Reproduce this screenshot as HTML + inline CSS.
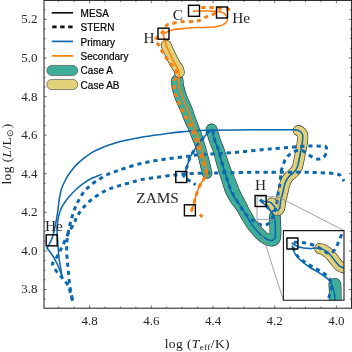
<!DOCTYPE html>
<html><head><meta charset="utf-8">
<style>
html,body{margin:0;padding:0;background:#fff;}
body{width:352px;height:352px;overflow:hidden;font-family:"Liberation Serif",serif;}
svg{display:block;}
.tk{font-family:"Liberation Serif",serif;font-size:13px;fill:#262626;}
.ax{font-family:"Liberation Serif",serif;font-size:13.5px;fill:#1a1a1a;letter-spacing:0.4px;}
.lg{font-family:"Liberation Sans",sans-serif;font-size:10px;fill:#000;stroke:#000;stroke-width:0.2px;}
.an{font-family:"Liberation Serif",serif;font-size:15.3px;fill:#262626;}
</style></head><body>
<svg style="will-change:transform" width="352" height="352" viewBox="0 0 352 352">
<rect width="352" height="352" fill="#fff"/>
<g id="curves" fill="none" stroke-linecap="round" stroke-linejoin="round">
<path d="M207.2,173.5 C206.9,172.1 205.9,168.1 205.2,165.0 C204.4,161.9 203.8,159.2 202.7,155.0 C201.6,150.8 199.8,144.5 198.4,140.0 C197.0,135.5 195.3,131.3 194.1,128.0 C192.9,124.7 192.3,123.5 191.1,120.2 C189.9,116.9 188.5,112.3 186.9,108.3 C185.3,104.3 183.1,100.1 181.8,96.4 C180.4,92.7 179.4,88.9 178.8,86.2 C178.2,83.5 178.3,81.0 178.2,80.0" stroke="#303030" stroke-width="10.5"/>
<path d="M211.6,129.5 C212.1,131.2 213.5,136.6 214.7,140.0 C215.8,143.4 217.4,146.5 218.5,150.0 C219.6,153.5 220.4,157.2 221.5,161.0 C222.6,164.8 223.7,169.0 224.8,172.5 C225.9,176.0 227.0,178.9 228.0,182.0 C229.0,185.1 229.7,188.2 231.0,191.2 C232.3,194.2 234.2,197.3 236.0,200.0 C237.8,202.7 239.8,204.5 241.7,207.4 C243.6,210.3 245.5,214.3 247.4,217.4 C249.3,220.5 250.8,223.4 253.0,226.2 C255.2,229.0 258.1,232.2 260.4,234.4 C262.7,236.6 265.1,238.3 267.0,239.3 C268.9,240.3 270.7,240.8 272.0,240.6 C273.3,240.4 274.4,239.5 275.0,238.0 C275.6,236.5 275.4,233.8 275.4,231.6 C275.4,229.3 275.3,227.0 275.2,224.5 C275.1,222.0 274.9,217.8 274.9,216.5" stroke="#303030" stroke-width="11.799999999999999"/>
<path d="M218.7,150.0 C219.3,151.8 221.2,157.2 222.5,161.0 C223.8,164.8 225.2,169.0 226.6,172.5 C227.9,176.0 229.3,178.9 230.6,182.0 C231.9,185.1 232.9,188.3 234.2,191.2 C235.5,194.1 236.8,196.7 238.2,199.3 C239.5,201.9 241.6,205.6 242.3,206.8" stroke="#303030" stroke-width="11.2"/>
<path d="M198.0,140.0 C197.2,138.0 194.6,131.3 193.2,128.0 C191.8,124.7 191.0,123.5 189.6,120.2 C188.2,116.9 186.5,112.3 184.8,108.3 C183.1,104.3 180.9,100.1 179.6,96.4 C178.2,92.7 177.2,88.9 176.7,86.2 C176.2,83.5 176.5,81.0 176.5,80.0" stroke="#303030" stroke-width="10.5"/>
<path d="M207.2,173.5 C206.9,172.1 205.9,168.1 205.2,165.0 C204.4,161.9 203.8,159.2 202.7,155.0 C201.6,150.8 199.8,144.5 198.4,140.0 C197.0,135.5 195.3,131.3 194.1,128.0 C192.9,124.7 192.3,123.5 191.1,120.2 C189.9,116.9 188.5,112.3 186.9,108.3 C185.3,104.3 183.1,100.1 181.8,96.4 C180.4,92.7 179.4,88.9 178.8,86.2 C178.2,83.5 178.3,81.0 178.2,80.0" stroke="#3fae99" stroke-width="9.3"/>
<path d="M211.6,129.5 C212.1,131.2 213.5,136.6 214.7,140.0 C215.8,143.4 217.4,146.5 218.5,150.0 C219.6,153.5 220.4,157.2 221.5,161.0 C222.6,164.8 223.7,169.0 224.8,172.5 C225.9,176.0 227.0,178.9 228.0,182.0 C229.0,185.1 229.7,188.2 231.0,191.2 C232.3,194.2 234.2,197.3 236.0,200.0 C237.8,202.7 239.8,204.5 241.7,207.4 C243.6,210.3 245.5,214.3 247.4,217.4 C249.3,220.5 250.8,223.4 253.0,226.2 C255.2,229.0 258.1,232.2 260.4,234.4 C262.7,236.6 265.1,238.3 267.0,239.3 C268.9,240.3 270.7,240.8 272.0,240.6 C273.3,240.4 274.4,239.5 275.0,238.0 C275.6,236.5 275.4,233.8 275.4,231.6 C275.4,229.3 275.3,227.0 275.2,224.5 C275.1,222.0 274.9,217.8 274.9,216.5" stroke="#3fae99" stroke-width="10.6"/>
<path d="M218.7,150.0 C219.3,151.8 221.2,157.2 222.5,161.0 C223.8,164.8 225.2,169.0 226.6,172.5 C227.9,176.0 229.3,178.9 230.6,182.0 C231.9,185.1 232.9,188.3 234.2,191.2 C235.5,194.1 236.8,196.7 238.2,199.3 C239.5,201.9 241.6,205.6 242.3,206.8" stroke="#3fae99" stroke-width="10.0"/>
<path d="M198.0,140.0 C197.2,138.0 194.6,131.3 193.2,128.0 C191.8,124.7 191.0,123.5 189.6,120.2 C188.2,116.9 186.5,112.3 184.8,108.3 C183.1,104.3 180.9,100.1 179.6,96.4 C178.2,92.7 177.2,88.9 176.7,86.2 C176.2,83.5 176.5,81.0 176.5,80.0" stroke="#3fae99" stroke-width="9.3"/>
<path d="M179.4,72.5 C179.2,71.8 179.0,69.8 178.2,68.3 C177.4,66.8 176.1,65.8 174.7,63.2 C173.3,60.7 171.0,56.0 169.6,53.0 C168.2,50.0 166.8,46.5 166.2,45.2" stroke="#303030" stroke-width="10.799999999999999"/>
<path d="M179.4,72.5 C179.2,71.8 179.0,69.8 178.2,68.3 C177.4,66.8 176.1,65.8 174.7,63.2 C173.3,60.7 171.0,56.0 169.6,53.0 C168.2,50.0 166.8,46.5 166.2,45.2" stroke="#e0d078" stroke-width="9.6"/>
<path d="M271.8,203.0 C272.2,203.6 273.6,205.3 274.4,206.5 C275.2,207.7 275.9,210.0 276.8,210.3 C277.7,210.6 279.1,209.7 279.7,208.2 C280.3,206.7 280.2,203.4 280.6,201.2 C281.0,199.0 281.6,197.3 282.2,195.0 C282.8,192.7 283.3,189.8 283.9,187.5 C284.5,185.2 285.0,183.1 285.9,181.2 C286.8,179.3 287.9,177.7 289.3,176.2 C290.7,174.7 292.7,173.8 294.0,172.3 C295.3,170.9 296.3,169.2 297.1,167.5 C297.9,165.8 298.1,164.1 298.6,162.0 C299.1,159.9 299.4,157.8 300.0,155.0 C300.6,152.2 301.4,147.9 301.9,145.0 C302.4,142.1 302.7,139.4 302.8,137.5 C302.8,135.6 302.8,134.8 302.3,133.8 C301.8,132.7 300.7,131.8 300.0,131.3 C299.3,130.8 298.6,130.6 298.3,130.5" stroke="#303030" stroke-width="10.899999999999999"/>
<path d="M271.8,203.0 C272.2,203.6 273.6,205.3 274.4,206.5 C275.2,207.7 275.9,210.0 276.8,210.3 C277.7,210.6 279.1,209.7 279.7,208.2 C280.3,206.7 280.2,203.4 280.6,201.2 C281.0,199.0 281.6,197.3 282.2,195.0 C282.8,192.7 283.3,189.8 283.9,187.5 C284.5,185.2 285.0,183.1 285.9,181.2 C286.8,179.3 287.9,177.7 289.3,176.2 C290.7,174.7 292.7,173.8 294.0,172.3 C295.3,170.9 296.3,169.2 297.1,167.5 C297.9,165.8 298.1,164.1 298.6,162.0 C299.1,159.9 299.4,157.8 300.0,155.0 C300.6,152.2 301.4,147.9 301.9,145.0 C302.4,142.1 302.7,139.4 302.8,137.5 C302.8,135.6 302.8,134.8 302.3,133.8 C301.8,132.7 300.7,131.8 300.0,131.3 C299.3,130.8 298.6,130.6 298.3,130.5" stroke="#e0d078" stroke-width="9.7"/>
<path d="M183.5,177.0 C183.7,176.6 184.0,176.2 184.6,174.5 C185.2,172.8 186.1,169.5 187.0,166.6 C187.9,163.7 188.9,159.9 190.2,157.0 C191.5,154.1 193.3,151.8 195.0,149.1 C196.7,146.4 198.5,143.6 200.5,141.1 C202.5,138.6 205.1,135.9 206.9,134.0 C208.8,132.1 210.8,130.2 211.6,129.5" stroke="#0d67ad" stroke-width="1.55"/>
<path d="M211.6,129.5 C212.1,131.2 213.5,136.6 214.7,140.0 C215.8,143.4 217.4,146.5 218.5,150.0 C219.6,153.5 220.4,157.2 221.5,161.0 C222.6,164.8 223.7,169.0 224.8,172.5 C225.9,176.0 227.0,178.9 228.0,182.0 C229.0,185.1 229.7,188.2 231.0,191.2 C232.3,194.2 234.2,197.3 236.0,200.0 C237.8,202.7 239.8,204.5 241.7,207.4 C243.6,210.3 245.5,214.3 247.4,217.4 C249.3,220.5 250.8,223.4 253.0,226.2 C255.2,229.0 258.1,232.2 260.4,234.4 C262.7,236.6 265.1,238.3 267.0,239.3 C268.9,240.3 270.7,240.8 272.0,240.6 C273.3,240.4 274.4,239.5 275.0,238.0 C275.6,236.5 275.4,233.8 275.4,231.6 C275.4,229.3 275.3,226.7 275.2,224.5 C275.1,222.3 275.0,220.2 274.6,218.5 C274.2,216.8 273.1,215.2 272.8,214.5" stroke="#0d67ad" stroke-width="1.55"/>
<path d="M272.8,214.5 C272.0,213.3 269.4,209.5 267.8,207.6 C266.2,205.7 264.3,204.2 263.0,203.0 C261.7,201.8 260.7,200.9 260.2,200.5" stroke="#0d67ad" stroke-width="1.55"/>
<path d="M260.2,200.5 C260.9,200.7 262.9,201.3 264.5,201.6 C266.1,201.9 268.5,201.5 270.1,202.3 C271.8,203.1 273.3,205.2 274.4,206.5 C275.5,207.8 275.9,210.0 276.8,210.3 C277.7,210.6 279.1,209.7 279.7,208.2 C280.3,206.7 280.2,203.4 280.6,201.2 C281.0,199.0 281.6,197.3 282.2,195.0 C282.8,192.7 283.3,189.8 283.9,187.5 C284.5,185.2 285.0,183.1 285.9,181.2 C286.8,179.3 287.9,177.7 289.3,176.2 C290.7,174.7 292.7,173.8 294.0,172.3 C295.3,170.9 296.3,169.2 297.1,167.5 C297.9,165.8 298.1,164.1 298.6,162.0 C299.1,159.9 299.4,157.8 300.0,155.0 C300.6,152.2 301.4,147.9 301.9,145.0 C302.4,142.1 302.7,139.4 302.8,137.5 C302.8,135.6 302.8,134.8 302.3,133.8 C301.8,132.7 300.7,131.8 300.0,131.3 C299.3,130.8 298.6,130.6 298.3,130.5" stroke="#0d67ad" stroke-width="1.55"/>
<path d="M298.3,130.5 C298.0,130.4 297.8,130.0 296.2,129.9 C294.7,129.8 294.4,129.7 289.0,129.7 C283.6,129.7 272.8,129.7 264.0,129.7 C255.2,129.7 244.7,129.8 236.0,129.9 C227.3,130.0 219.0,130.1 212.0,130.2 C205.0,130.3 198.2,130.4 194.2,130.6 C190.2,130.8 191.5,130.9 187.8,131.3 C184.1,131.7 177.2,132.3 171.9,132.9 C166.6,133.5 161.3,134.3 156.0,135.1 C150.7,135.9 145.2,136.6 139.8,137.5 C134.5,138.4 127.9,139.8 123.9,140.7 C119.9,141.6 118.7,142.0 116.0,142.8 C113.3,143.6 110.4,144.5 107.7,145.5 C105.0,146.5 102.5,147.5 99.8,148.7 C97.1,149.9 94.4,151.0 91.8,152.6 C89.2,154.2 86.6,156.1 83.9,158.2 C81.2,160.3 78.3,162.9 75.9,165.4 C73.5,167.9 71.2,170.9 69.5,173.3 C67.8,175.7 66.9,177.1 65.6,179.7 C64.3,182.3 62.6,185.3 61.5,188.7 C60.4,192.0 59.9,195.8 59.2,199.8 C58.6,203.8 58.2,208.4 57.6,212.5 C57.0,216.6 56.3,220.2 55.5,224.1 C54.7,228.0 53.8,232.7 52.8,236.0 C51.8,239.3 50.4,242.0 49.4,244.0 C48.4,246.0 47.4,247.3 47.0,248.0" stroke="#0d67ad" stroke-width="1.55"/>
<path d="M47.0,248.0 C47.8,249.1 50.2,251.9 51.9,254.5 C53.6,257.1 55.6,260.6 57.0,263.5 C58.4,266.4 59.7,269.9 60.5,272.0 C61.3,274.1 61.7,275.3 61.9,276.0" stroke="#0d67ad" stroke-width="1.55"/>
<path d="M61.9,276.0 C61.7,274.7 61.0,270.6 60.6,268.0 C60.2,265.4 59.7,263.2 59.3,260.2 C58.9,257.2 58.6,253.4 58.3,250.0 C58.0,246.6 57.8,243.3 57.6,240.0 C57.4,236.7 57.0,233.0 57.0,230.0 C57.0,227.0 57.2,224.8 57.6,222.1 C58.0,219.4 58.4,216.8 59.2,214.1 C60.0,211.4 60.8,208.8 62.3,206.2 C63.8,203.5 65.6,201.0 67.9,198.2 C70.2,195.4 73.2,192.0 75.9,189.5 C78.6,187.0 81.2,185.0 83.8,183.1 C86.4,181.2 88.9,179.8 91.8,178.3 C94.7,176.9 99.7,175.1 101.3,174.4" stroke="#0d67ad" stroke-width="1.55"/>
<path d="M183.5,177.0 C184.1,175.3 185.9,169.9 187.0,166.6 C188.1,163.3 188.9,159.9 190.2,157.0 C191.5,154.1 193.3,151.8 195.0,149.1 C196.7,146.4 197.7,144.4 200.5,141.1 C203.3,137.8 209.2,129.7 211.6,129.5 C214.0,129.3 213.5,136.6 214.7,140.0 C215.8,143.4 217.4,146.5 218.5,150.0 C219.6,153.5 220.4,157.2 221.5,161.0 C222.6,164.8 223.7,169.0 224.8,172.5 C225.9,176.0 226.9,178.9 228.0,182.0 C229.1,185.1 230.1,188.2 231.5,191.2 C232.9,194.2 234.6,196.8 236.5,200.0 C238.4,203.2 241.0,207.6 243.1,210.5 C245.2,213.4 246.9,215.6 248.8,217.4 C250.7,219.2 252.6,220.4 254.5,221.6 C256.4,222.8 258.2,223.9 260.1,224.5 C262.0,225.1 264.0,225.8 265.8,225.2 C267.6,224.6 269.5,222.7 270.8,220.9 C272.1,219.1 272.6,217.2 273.5,214.5 C274.4,211.8 275.7,208.4 276.5,204.5 C277.3,200.6 277.8,194.9 278.4,191.2 C279.0,187.5 279.8,185.6 280.2,182.5 C280.6,179.4 280.5,175.2 280.9,172.5 C281.3,169.8 281.9,168.7 282.8,166.2 C283.7,163.7 284.6,159.9 286.5,157.5 C288.4,155.1 291.5,152.8 294.0,151.6 C296.5,150.4 299.6,150.4 301.5,150.5 C303.4,150.6 303.6,151.2 305.2,152.2 C306.8,153.2 309.0,155.2 311.1,156.3 C313.2,157.5 315.6,158.9 317.7,159.1 C319.8,159.3 322.2,158.3 323.6,157.3 C325.0,156.3 325.8,154.2 326.3,152.9 C326.8,151.6 326.8,150.2 326.7,149.2 C326.6,148.2 326.5,147.4 326.0,146.9 C325.5,146.4 326.3,146.3 323.5,146.2 C320.7,146.1 313.9,146.0 309.0,146.1 C304.1,146.2 299.0,146.7 294.0,147.0 C289.0,147.3 284.0,147.8 279.0,148.2 C274.0,148.6 270.2,148.9 264.0,149.5 C257.8,150.1 249.3,151.1 242.0,151.8 C234.7,152.5 225.0,153.2 220.0,153.6 C215.0,153.9 216.0,153.7 212.0,153.9 C208.0,154.2 199.8,154.7 195.8,155.1 C191.8,155.5 191.8,155.7 187.8,156.2 C183.8,156.7 177.2,157.6 171.9,158.3 C166.6,159.0 161.3,159.6 156.0,160.5 C150.7,161.4 145.2,162.5 139.8,163.8 C134.5,165.1 128.2,167.1 123.9,168.5 C119.6,169.9 117.0,170.9 114.0,172.0 C111.0,173.1 108.8,173.9 106.1,175.2 C103.4,176.5 100.8,178.2 98.1,179.9 C95.4,181.6 92.6,183.5 90.2,185.5 C87.8,187.5 85.7,189.5 83.8,191.9 C81.9,194.3 80.5,197.2 79.0,199.8 C77.5,202.5 76.3,204.9 75.1,207.8 C73.9,210.7 72.8,214.3 71.9,217.3 C71.0,220.3 70.4,222.6 69.6,226.0 C68.8,229.4 67.8,234.3 67.3,238.0 C66.8,241.7 66.6,244.5 66.6,248.2 C66.6,251.9 66.9,256.4 67.2,260.1 C67.5,263.8 67.9,266.3 68.3,270.3 C68.7,274.3 69.1,280.1 69.6,284.1 C70.1,288.1 70.8,291.5 71.3,294.3 C71.8,297.1 72.4,299.7 72.6,300.8" stroke="#0d67ad" stroke-width="3.0" stroke-dasharray="4.2 4.0" stroke-linecap="butt"/>
<path d="M72.6,300.8 C72.2,299.5 71.2,295.4 70.5,293.0 C69.8,290.6 69.6,288.5 68.7,286.6 C67.8,284.7 66.6,283.2 65.3,281.5 C64.0,279.8 62.6,278.2 61.0,276.4 C59.4,274.6 57.3,272.6 55.9,270.5 C54.5,268.4 52.4,265.9 52.6,263.6 C52.8,261.3 55.7,259.0 57.0,256.7 C58.3,254.4 59.4,252.2 60.5,249.9 C61.6,247.6 62.6,245.8 63.9,243.0 C65.2,240.2 66.8,236.3 68.5,233.0 C70.2,229.7 73.1,225.2 74.3,222.9 C75.5,220.6 75.1,220.5 75.9,218.9 C76.7,217.3 77.7,215.3 79.0,213.3 C80.3,211.3 81.9,209.1 83.8,207.0 C85.7,204.9 87.8,202.6 90.2,200.6 C92.6,198.6 95.4,196.7 98.1,195.0 C100.8,193.3 103.5,191.6 106.1,190.3 C108.7,189.1 110.9,188.4 113.5,187.5 C116.1,186.6 118.8,185.8 121.5,185.0 C124.2,184.2 127.0,183.6 130.0,182.8 C133.1,182.0 135.5,180.9 139.8,180.0 C144.1,179.1 150.7,178.2 156.0,177.4 C161.3,176.6 167.7,175.8 171.9,175.3 C176.2,174.8 177.5,174.5 181.5,174.2 C185.5,173.9 190.7,173.5 195.8,173.3 C200.9,173.1 208.0,173.1 212.0,173.0 C216.0,172.9 211.3,173.0 220.0,172.9 C228.7,172.8 252.5,172.3 264.0,172.2 C275.5,172.1 280.7,172.1 289.0,172.2 C297.3,172.2 306.1,172.2 314.0,172.5 C321.9,172.8 331.9,173.0 336.5,173.8 C341.1,174.6 340.2,176.3 341.5,177.5 C342.8,178.7 343.6,180.6 344.0,181.2" stroke="#0d67ad" stroke-width="3.0" stroke-dasharray="4.2 4.0" stroke-linecap="butt"/>
<path d="M260.2,199.5 C260.9,200.2 263.1,202.3 264.5,203.8 C265.9,205.3 267.3,207.3 268.7,208.7 C270.1,210.1 272.3,211.4 273.0,212.0" stroke="#0d67ad" stroke-width="3.0" stroke-dasharray="4.2 4.0" stroke-linecap="butt"/>
<path d="M187.0,179.1 L195.6,184.7" stroke="#0d67ad" stroke-width="3.0" stroke-dasharray="4.2 4.0" stroke-linecap="butt"/>
<path d="M191.3,211.1 C191.7,210.1 192.8,207.1 193.5,205.0 C194.2,202.9 194.6,200.5 195.2,198.5 C195.8,196.5 196.2,195.1 196.9,193.0 C197.7,190.9 198.6,187.9 199.7,185.7 C200.8,183.5 201.9,182.0 203.2,180.0 C204.5,178.0 206.9,174.6 207.6,173.5" stroke="#fc7d0b" stroke-width="1.55"/>
<path d="M207.6,173.5 C207.3,172.1 206.3,168.1 205.6,165.0 C204.8,161.9 204.2,159.2 203.1,155.0 C202.0,150.8 200.2,144.5 198.8,140.0 C197.4,135.5 195.7,131.3 194.5,128.0 C193.3,124.7 192.7,123.5 191.5,120.2 C190.3,116.9 188.9,112.3 187.3,108.3 C185.8,104.3 183.5,100.1 182.2,96.4 C180.8,92.7 179.8,88.9 179.2,86.2 C178.6,83.5 178.7,81.0 178.6,80.0" stroke="#fc7d0b" stroke-width="1.55"/>
<path d="M178.6,80.0 C178.7,79.2 179.3,77.2 179.3,75.5 C179.3,73.8 179.2,72.0 178.4,70.0 C177.6,68.0 176.2,66.0 174.7,63.2 C173.2,60.4 171.2,56.4 169.6,53.0 C168.0,49.6 166.3,45.6 165.3,42.8 C164.3,39.9 163.9,37.0 163.6,35.9" stroke="#fc7d0b" stroke-width="1.55"/>
<path d="M163.6,35.9 C163.7,35.5 162.7,34.5 164.2,33.5 C165.7,32.5 168.9,30.7 172.7,29.8 C176.5,28.9 182.8,28.7 186.9,28.3 C191.0,27.9 192.5,27.8 197.0,27.6 C201.5,27.4 209.8,27.4 214.1,27.0 C218.4,26.6 220.4,25.8 222.6,24.9 C224.8,23.9 226.4,22.9 227.0,21.3 C227.6,19.7 227.3,17.1 226.3,15.5 C225.3,13.9 224.2,12.7 220.9,11.9 C217.7,11.2 211.4,11.1 206.8,11.0 C202.2,10.9 195.8,11.1 193.6,11.1" stroke="#fc7d0b" stroke-width="1.55"/>
<path d="M191.3,211.1 C191.7,210.1 192.8,207.1 193.5,205.0 C194.2,202.9 194.6,200.5 195.2,198.5 C195.8,196.5 196.2,195.1 196.9,193.0 C197.7,190.9 198.6,187.9 199.7,185.7 C200.8,183.5 202.1,181.9 203.2,180.0 C204.3,178.1 206.5,176.8 206.5,174.0 C206.5,171.2 204.2,167.0 203.0,163.0 C201.8,159.0 200.5,154.7 199.0,150.0 C197.5,145.3 195.5,139.2 194.0,135.0 C192.5,130.8 191.4,128.0 190.0,125.0 C188.6,122.0 187.0,119.6 185.6,116.8 C184.2,114.0 182.7,111.4 181.3,108.3 C179.9,105.2 178.1,101.2 177.0,98.1 C175.9,95.0 174.9,92.4 174.5,89.6 C174.1,86.8 174.1,83.4 174.5,81.0 C174.9,78.6 177.2,77.2 177.2,75.1 C177.2,73.0 176.0,70.4 174.7,68.3 C173.4,66.2 171.2,64.4 169.6,62.4 C168.0,60.4 166.7,58.5 165.3,56.4 C163.9,54.3 162.1,51.6 161.0,49.6 C159.9,47.6 159.8,46.1 158.5,44.5 C157.2,42.9 154.2,40.9 153.4,40.2" stroke="#fc7d0b" stroke-width="3.0" stroke-dasharray="4.2 4.0" stroke-linecap="butt"/>
<path d="M155.0,39.0 C156.0,38.2 159.1,36.4 161.0,34.2 C162.9,32.0 164.7,27.4 166.2,25.7 C167.7,24.0 167.4,24.8 169.9,24.1 C172.4,23.5 176.7,22.3 181.2,21.8 C185.7,21.3 193.2,22.0 197.0,21.3 C200.8,20.6 201.6,18.9 203.9,17.9 C206.2,16.9 207.9,16.4 210.7,15.3 C213.5,14.2 219.2,11.8 220.9,11.1" stroke="#fc7d0b" stroke-width="3.0" stroke-dasharray="4.2 4.0" stroke-linecap="butt"/>
<path d="M201.3,7.4 C203.4,7.5 209.4,7.4 214.1,7.7 C218.8,8.0 226.3,8.8 229.4,9.4 C232.5,10.0 232.2,10.8 232.8,11.1" stroke="#fc7d0b" stroke-width="3.0" stroke-dasharray="4.2 4.0" stroke-linecap="butt"/>
<path d="M199.8,214.5 L202.4,216.8" stroke="#fc7d0b" stroke-width="3.0" stroke-dasharray="4.2 4.0" stroke-linecap="butt"/>
</g>
<g fill="none" stroke-linecap="round" stroke-linejoin="round">
<g stroke="#8a8a8a" stroke-width="0.8" fill="none">
<rect x="257.4" y="196.7" width="20.6" height="22.6"/>
<line x1="278" y1="196.7" x2="344" y2="230.6"/>
<line x1="257.4" y1="219.3" x2="283.4" y2="300.2"/>
</g>
<rect x="283.4" y="230.6" width="60.6" height="69.6" fill="#fff" stroke="none"/>
<clipPath id="ic"><rect x="283.4" y="230.6" width="60.6" height="69.6"/></clipPath>
<g clip-path="url(#ic)">
<path d="M334.8,284.3 C334.9,285.2 335.1,288.1 335.2,290.0 C335.3,291.9 335.2,292.9 335.2,295.4 C335.2,297.9 335.0,303.4 335.0,305.0" stroke="#303030" stroke-width="12.7"/>
<path d="M334.8,284.3 C334.9,285.2 335.1,288.1 335.2,290.0 C335.3,291.9 335.2,292.9 335.2,295.4 C335.2,297.9 335.0,303.4 335.0,305.0" stroke="#3fae99" stroke-width="11.5"/>
<path d="M319.8,248.6 C320.3,248.7 321.4,248.6 322.9,249.4 C324.4,250.2 327.1,251.8 329.0,253.5 C330.9,255.2 332.4,257.6 334.1,259.7 C335.8,261.8 337.3,264.3 339.3,265.8 C341.3,267.3 344.9,268.1 346.0,268.5" stroke="#303030" stroke-width="11.0"/>
<path d="M319.8,248.6 C320.3,248.7 321.4,248.6 322.9,249.4 C324.4,250.2 327.1,251.8 329.0,253.5 C330.9,255.2 332.4,257.6 334.1,259.7 C335.8,261.8 337.3,264.3 339.3,265.8 C341.3,267.3 344.9,268.1 346.0,268.5" stroke="#e0d078" stroke-width="9.8"/>
<path d="M292.3,243.2 C293.4,243.8 296.1,246.1 299.0,247.0 C301.9,247.9 306.7,248.4 309.5,248.6 C312.3,248.8 313.5,248.0 315.7,248.1 C317.9,248.2 320.7,248.5 322.9,249.4 C325.1,250.3 327.1,251.8 329.0,253.5 C330.9,255.2 332.4,257.6 334.1,259.7 C335.8,261.8 337.3,264.3 339.3,265.8 C341.3,267.3 344.9,268.1 346.0,268.5" stroke="#0d67ad" stroke-width="1.55"/>
<path d="M292.3,246.0 C292.7,247.2 293.3,250.9 294.8,253.3 C296.3,255.8 298.7,258.4 301.1,260.7 C303.6,263.0 306.4,264.9 309.5,267.0 C312.6,269.1 316.8,271.2 320.0,273.3 C323.2,275.4 326.4,277.3 328.5,279.6 C330.6,281.9 331.6,284.4 332.7,287.0 C333.8,289.6 334.4,292.9 334.8,295.4 C335.2,297.9 334.8,300.9 334.8,302.0" stroke="#0d67ad" stroke-width="1.55"/>
<path d="M293.8,242.4 C295.0,242.4 298.5,242.2 301.1,242.4 C303.7,242.7 306.7,243.1 309.5,243.9 C312.3,244.7 315.6,245.8 318.0,247.0 C320.4,248.2 322.1,250.1 324.2,251.2 C326.3,252.2 328.7,253.8 330.6,253.3 C332.5,252.8 334.4,250.2 335.8,248.1 C337.2,246.0 337.9,243.1 339.0,240.7 C340.1,238.2 341.3,235.3 342.1,233.4 C342.9,231.5 343.7,229.7 344.0,229.0" stroke="#0d67ad" stroke-width="3.0" stroke-dasharray="4.2 4.0" stroke-linecap="butt"/>
<path d="M292.7,247.0 C293.4,248.4 295.0,253.0 296.9,255.4 C298.8,257.9 301.7,259.8 304.3,261.7 C306.9,263.6 309.7,265.2 312.7,267.0 C315.7,268.8 319.3,270.3 322.1,272.2 C324.9,274.1 327.9,276.1 329.5,278.6 C331.1,281.1 331.6,284.2 331.6,287.0 C331.6,289.8 330.2,293.1 329.5,295.4 C328.8,297.7 327.8,300.1 327.4,301.0" stroke="#0d67ad" stroke-width="3.0" stroke-dasharray="4.2 4.0" stroke-linecap="butt"/>
</g>
<rect x="283.4" y="230.6" width="60.6" height="69.6" fill="none" stroke="#1a1a1a" stroke-width="1.1"/>
<rect x="286.9" y="238" width="11" height="11" fill="none" stroke="#000" stroke-width="1.4"/>
</g>
<g>
<rect x="175.8" y="171.5" width="11" height="11" fill="none" stroke="#000" stroke-width="1.4"/>
<rect x="184.4" y="204.8" width="11" height="11" fill="none" stroke="#000" stroke-width="1.4"/>
<rect x="255.1" y="195.5" width="11" height="11" fill="none" stroke="#000" stroke-width="1.4"/>
<rect x="46.2" y="234.8" width="11" height="11" fill="none" stroke="#000" stroke-width="1.4"/>
<rect x="158.0" y="28.2" width="11" height="11" fill="none" stroke="#000" stroke-width="1.4"/>
<rect x="188.5" y="5.3" width="11" height="11" fill="none" stroke="#000" stroke-width="1.4"/>
<rect x="216.5" y="7.0" width="11" height="11" fill="none" stroke="#000" stroke-width="1.4"/>
</g>
<g class="an">
<text x="45" y="230.6">He</text>
<text x="143.5" y="42.8">H</text>
<text x="172.8" y="19.8">C</text>
<text x="232.2" y="22.8">He</text>
<text x="136.3" y="202.8">ZAMS</text>
<text x="255" y="190">H</text>
</g>
<rect x="44" y="0.4" width="307.6" height="307.8" fill="none" stroke="#1a1a1a" stroke-width="1.0"/>
<g stroke="#1a1a1a" stroke-width="0.6" id="ticks">
<line x1="336.4" x2="336.4" y1="308.2" y2="305.4"/>
<line x1="336.4" x2="336.4" y1="0.5" y2="3.3"/>
<line x1="321.0" x2="321.0" y1="308.2" y2="306.59999999999997"/>
<line x1="321.0" x2="321.0" y1="0.5" y2="2.1"/>
<line x1="305.5" x2="305.5" y1="308.2" y2="306.59999999999997"/>
<line x1="305.5" x2="305.5" y1="0.5" y2="2.1"/>
<line x1="290.1" x2="290.1" y1="308.2" y2="306.59999999999997"/>
<line x1="290.1" x2="290.1" y1="0.5" y2="2.1"/>
<line x1="274.7" x2="274.7" y1="308.2" y2="305.4"/>
<line x1="274.7" x2="274.7" y1="0.5" y2="3.3"/>
<line x1="259.3" x2="259.3" y1="308.2" y2="306.59999999999997"/>
<line x1="259.3" x2="259.3" y1="0.5" y2="2.1"/>
<line x1="243.8" x2="243.8" y1="308.2" y2="306.59999999999997"/>
<line x1="243.8" x2="243.8" y1="0.5" y2="2.1"/>
<line x1="228.4" x2="228.4" y1="308.2" y2="306.59999999999997"/>
<line x1="228.4" x2="228.4" y1="0.5" y2="2.1"/>
<line x1="213.0" x2="213.0" y1="308.2" y2="305.4"/>
<line x1="213.0" x2="213.0" y1="0.5" y2="3.3"/>
<line x1="197.6" x2="197.6" y1="308.2" y2="306.59999999999997"/>
<line x1="197.6" x2="197.6" y1="0.5" y2="2.1"/>
<line x1="182.1" x2="182.1" y1="308.2" y2="306.59999999999997"/>
<line x1="182.1" x2="182.1" y1="0.5" y2="2.1"/>
<line x1="166.7" x2="166.7" y1="308.2" y2="306.59999999999997"/>
<line x1="166.7" x2="166.7" y1="0.5" y2="2.1"/>
<line x1="151.3" x2="151.3" y1="308.2" y2="305.4"/>
<line x1="151.3" x2="151.3" y1="0.5" y2="3.3"/>
<line x1="135.9" x2="135.9" y1="308.2" y2="306.59999999999997"/>
<line x1="135.9" x2="135.9" y1="0.5" y2="2.1"/>
<line x1="120.4" x2="120.4" y1="308.2" y2="306.59999999999997"/>
<line x1="120.4" x2="120.4" y1="0.5" y2="2.1"/>
<line x1="105.0" x2="105.0" y1="308.2" y2="306.59999999999997"/>
<line x1="105.0" x2="105.0" y1="0.5" y2="2.1"/>
<line x1="89.6" x2="89.6" y1="308.2" y2="305.4"/>
<line x1="89.6" x2="89.6" y1="0.5" y2="3.3"/>
<line x1="74.2" x2="74.2" y1="308.2" y2="306.59999999999997"/>
<line x1="74.2" x2="74.2" y1="0.5" y2="2.1"/>
<line x1="58.7" x2="58.7" y1="308.2" y2="306.59999999999997"/>
<line x1="58.7" x2="58.7" y1="0.5" y2="2.1"/>
<line y1="299.1" y2="299.1" x1="44" x2="45.6"/>
<line y1="299.1" y2="299.1" x1="351.6" x2="350.0"/>
<line y1="289.5" y2="289.5" x1="44" x2="46.8"/>
<line y1="289.5" y2="289.5" x1="351.6" x2="348.8"/>
<line y1="279.8" y2="279.8" x1="44" x2="45.6"/>
<line y1="279.8" y2="279.8" x1="351.6" x2="350.0"/>
<line y1="270.2" y2="270.2" x1="44" x2="45.6"/>
<line y1="270.2" y2="270.2" x1="351.6" x2="350.0"/>
<line y1="260.5" y2="260.5" x1="44" x2="45.6"/>
<line y1="260.5" y2="260.5" x1="351.6" x2="350.0"/>
<line y1="250.9" y2="250.9" x1="44" x2="46.8"/>
<line y1="250.9" y2="250.9" x1="351.6" x2="348.8"/>
<line y1="241.2" y2="241.2" x1="44" x2="45.6"/>
<line y1="241.2" y2="241.2" x1="351.6" x2="350.0"/>
<line y1="231.6" y2="231.6" x1="44" x2="45.6"/>
<line y1="231.6" y2="231.6" x1="351.6" x2="350.0"/>
<line y1="221.9" y2="221.9" x1="44" x2="45.6"/>
<line y1="221.9" y2="221.9" x1="351.6" x2="350.0"/>
<line y1="212.3" y2="212.3" x1="44" x2="46.8"/>
<line y1="212.3" y2="212.3" x1="351.6" x2="348.8"/>
<line y1="202.7" y2="202.7" x1="44" x2="45.6"/>
<line y1="202.7" y2="202.7" x1="351.6" x2="350.0"/>
<line y1="193.0" y2="193.0" x1="44" x2="45.6"/>
<line y1="193.0" y2="193.0" x1="351.6" x2="350.0"/>
<line y1="183.4" y2="183.4" x1="44" x2="45.6"/>
<line y1="183.4" y2="183.4" x1="351.6" x2="350.0"/>
<line y1="173.7" y2="173.7" x1="44" x2="46.8"/>
<line y1="173.7" y2="173.7" x1="351.6" x2="348.8"/>
<line y1="164.1" y2="164.1" x1="44" x2="45.6"/>
<line y1="164.1" y2="164.1" x1="351.6" x2="350.0"/>
<line y1="154.4" y2="154.4" x1="44" x2="45.6"/>
<line y1="154.4" y2="154.4" x1="351.6" x2="350.0"/>
<line y1="144.8" y2="144.8" x1="44" x2="45.6"/>
<line y1="144.8" y2="144.8" x1="351.6" x2="350.0"/>
<line y1="135.1" y2="135.1" x1="44" x2="46.8"/>
<line y1="135.1" y2="135.1" x1="351.6" x2="348.8"/>
<line y1="125.5" y2="125.5" x1="44" x2="45.6"/>
<line y1="125.5" y2="125.5" x1="351.6" x2="350.0"/>
<line y1="115.8" y2="115.8" x1="44" x2="45.6"/>
<line y1="115.8" y2="115.8" x1="351.6" x2="350.0"/>
<line y1="106.2" y2="106.2" x1="44" x2="45.6"/>
<line y1="106.2" y2="106.2" x1="351.6" x2="350.0"/>
<line y1="96.6" y2="96.6" x1="44" x2="46.8"/>
<line y1="96.6" y2="96.6" x1="351.6" x2="348.8"/>
<line y1="86.9" y2="86.9" x1="44" x2="45.6"/>
<line y1="86.9" y2="86.9" x1="351.6" x2="350.0"/>
<line y1="77.3" y2="77.3" x1="44" x2="45.6"/>
<line y1="77.3" y2="77.3" x1="351.6" x2="350.0"/>
<line y1="67.6" y2="67.6" x1="44" x2="45.6"/>
<line y1="67.6" y2="67.6" x1="351.6" x2="350.0"/>
<line y1="58.0" y2="58.0" x1="44" x2="46.8"/>
<line y1="58.0" y2="58.0" x1="351.6" x2="348.8"/>
<line y1="48.3" y2="48.3" x1="44" x2="45.6"/>
<line y1="48.3" y2="48.3" x1="351.6" x2="350.0"/>
<line y1="38.7" y2="38.7" x1="44" x2="45.6"/>
<line y1="38.7" y2="38.7" x1="351.6" x2="350.0"/>
<line y1="29.0" y2="29.0" x1="44" x2="45.6"/>
<line y1="29.0" y2="29.0" x1="351.6" x2="350.0"/>
<line y1="19.4" y2="19.4" x1="44" x2="46.8"/>
<line y1="19.4" y2="19.4" x1="351.6" x2="348.8"/>
<line y1="9.8" y2="9.8" x1="44" x2="45.6"/>
<line y1="9.8" y2="9.8" x1="351.6" x2="350.0"/>
</g>
<g class="tk" text-anchor="end">
<text x="37.6" y="23.3">5.2</text>
<text x="37.6" y="61.9">5.0</text>
<text x="37.6" y="100.5">4.8</text>
<text x="37.6" y="139.0">4.6</text>
<text x="37.6" y="177.6">4.4</text>
<text x="37.6" y="216.2">4.2</text>
<text x="37.6" y="254.8">4.0</text>
<text x="37.6" y="293.4">3.8</text>
</g>
<g class="tk" text-anchor="middle">
<text x="89.6" y="324.5">4.8</text>
<text x="151.3" y="324.5">4.6</text>
<text x="213.0" y="324.5">4.4</text>
<text x="274.7" y="324.5">4.2</text>
<text x="336.4" y="324.5">4.0</text>
</g>
<text class="ax" x="197.3" y="347.8" text-anchor="middle">log (<tspan font-style="italic">T</tspan><tspan font-size="9" dy="2">eff</tspan><tspan dy="-2">/K)</tspan></text>
<text class="ax" transform="translate(11.2,154) rotate(-90)" text-anchor="middle">log (<tspan font-style="italic">L</tspan>/L<tspan font-size="9" dy="2">⊙</tspan><tspan dy="-2">)</tspan></text>
<g id="legend">
<line x1="51.7" x2="73" y1="12.8" y2="12.8" stroke="#111" stroke-width="1.7"/>
<line x1="52.2" x2="73" y1="26.9" y2="26.9" stroke="#111" stroke-width="2.9" stroke-dasharray="4.4 3.6"/>
<line x1="51.7" x2="73" y1="41.4" y2="41.4" stroke="#0d67ad" stroke-width="1.7"/>
<line x1="51.7" x2="73" y1="55.9" y2="55.9" stroke="#fc7d0b" stroke-width="1.7"/>
<rect x="46.8" y="65.4" width="31" height="10.2" rx="5.1" fill="#3fae99" stroke="#3a3a3a" stroke-width="0.6"/>
<rect x="46.8" y="79.4" width="31" height="10.2" rx="5.1" fill="#e0d078" stroke="#3a3a3a" stroke-width="0.6"/>
<g class="lg">
<text x="80.6" y="17.2">MESA</text>
<text x="80.6" y="31.3">STERN</text>
<text x="80.6" y="45.8">Primary</text>
<text x="80.6" y="60.2">Secondary</text>
<text x="80.6" y="74.2">Case A</text>
<text x="80.6" y="88.5">Case AB</text>
</g>
</g>
</svg>
</body></html>
